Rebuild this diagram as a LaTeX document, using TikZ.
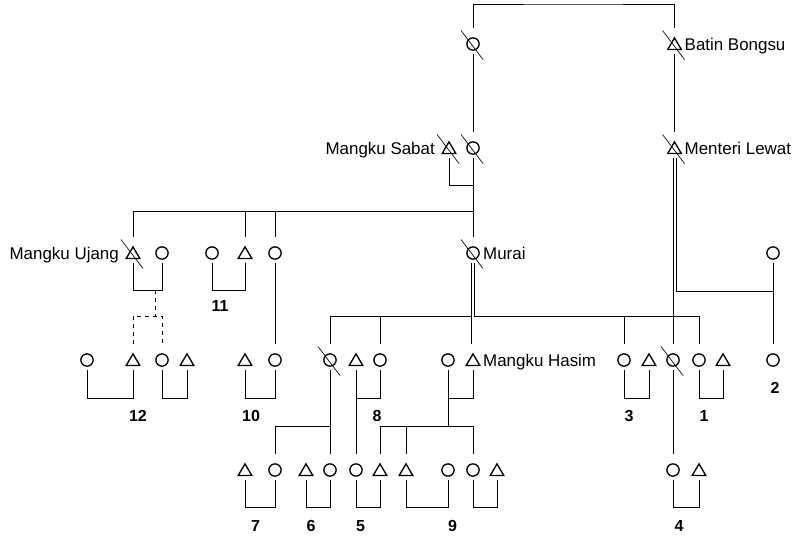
\documentclass[tikz,border=0pt]{standalone}
\usepackage{fontspec}
\setmainfont{Liberation Sans}

\tikzset{
  person/.style={rectangle, inner sep=0pt, minimum width=13.5pt,
    minimum height=19.5pt, shift={(0,-3)}},
  female/.style={person, path picture={\draw[line width=1pt]
    ([yshift=-2.25pt]path picture bounding box.center) circle[radius=4.6pt];}},
  male/.style={person, path picture={\draw[line width=1pt, line join=miter]
    ([yshift=-2.25pt]path picture bounding box.center) ++(0pt,4.6pt)
    -- ++(5.1pt,-8.7pt) -- ++(-10.2pt,0pt) -- cycle;}},
  kin/.style={line width=0.75pt},
  slash/.style={line width=0.5pt},
  rname/.style={font=\fontsize{12.7}{15}\selectfont, anchor=base west,
    inner sep=0.5pt, yshift=-6.75pt},
  lname/.style={font=\fontsize{12.7}{15}\selectfont, anchor=base east,
    inner sep=3.5pt, yshift=-6.75pt},
  famno/.style={font=\fontsize{12}{14}\selectfont\bfseries, inner sep=0pt},
}

\begin{document}
\begin{tikzpicture}[x=0.75pt, y=-0.75pt]
  \useasboundingbox (0,0) rectangle (796,537);

  % first generation
  \node[female] (w1) at (473,44) {};
  \node[male, label={[rname]right:Batin Bongsu}] (bb) at (674.5,44) {};

  % second generation
  \node[male, label={[lname]left:Mangku Sabat}] (ms) at (449,148) {};
  \node[female] (sw) at (473,148) {};
  \node[male, label={[rname]right:Menteri Lewat}] (ml) at (674.5,148) {};

  % third generation
  \node[male, label={[lname]left:Mangku Ujang}] (mu) at (133,253) {};
  \node[female] (muw) at (162,253) {};
  \node[female] (a11) at (212,253) {};
  \node[male] (b11) at (245,253) {};
  \node[female] (c10) at (275,253) {};
  \node[female, label={[rname]right:Murai}] (mr) at (473,253) {};
  \node[female] (w2) at (773,253) {};

  % fourth generation
  \node[female] (p12a) at (87,360) {};
  \node[male] (p12b) at (133,360) {};
  \node[female] (p12c) at (162,360) {};
  \node[male] (p12d) at (187,360) {};
  \node[male] (p10a) at (245,360) {};
  \node[female] (p10b) at (275,360) {};
  \node[female] (d1) at (330,360) {};
  \node[male] (p8a) at (356,360) {};
  \node[female] (p8b) at (380,360) {};
  \node[female] (mhw) at (448,360) {};
  \node[male, label={[rname]right:Mangku Hasim}] (mh) at (473,360) {};
  \node[female] (p3a) at (624,360) {};
  \node[male] (p3b) at (649,360) {};
  \node[female] (d2) at (673,360) {};
  \node[female] (p1a) at (699,360) {};
  \node[male] (p1b) at (723,360) {};
  \node[female] (p2) at (773,360) {};

  % fifth generation
  \node[male] (p7a) at (245,470) {};
  \node[female] (p7b) at (275,470) {};
  \node[male] (p6a) at (306,470) {};
  \node[female] (p6b) at (330,470) {};
  \node[female] (p5a) at (356,470) {};
  \node[male] (p5b) at (380,470) {};
  \node[male] (p9a) at (406,470) {};
  \node[female] (p9b) at (448,470) {};
  \node[female] (p9c) at (473,470) {};
  \node[male] (p9d) at (497,470) {};
  \node[female] (p4a) at (673,470) {};
  \node[male] (p4b) at (699,470) {};

  % deceased
  \foreach \n in {w1,bb,ms,sw,ml,mu,mr,d1,d2}
    \draw[slash] ([shift={(-12,-10.5)}]\n.center) -- ++(22,29);

  % household numbers
  \node[famno] (n11) at (220,306) {11};
  \node[famno] (n12) at (138,415.5) {12};
  \node[famno] (n10) at (251,415.5) {10};
  \node[famno] (n8) at (377,415.5) {8};
  \node[famno] (n3) at (629,415.5) {3};
  \node[famno] (n1) at (704,415.5) {1};
  \node[famno] (n2) at (775,387.5) {2};
  \node[famno] (n7) at (255.5,526) {7};
  \node[famno] (n6) at (311,526) {6};
  \node[famno] (n5) at (360.5,526) {5};
  \node[famno] (n9) at (452.5,526) {9};
  \node[famno] (n4) at (679,526) {4};

  % top couple
  \coordinate (topbar) at (573,4);
  \draw[kin] (w1.north) |- (topbar) -| (bb.north);
  \draw[kin] (w1.south) -- (sw.north);
  \draw[kin] (bb.south) -- (ml.north);

  % Mangku Sabat and children
  \coordinate (sbar) at (473,211.5);
  \draw[kin] (ms.south) -- ++(0,27) -| (sw.south);
  \draw[kin] (sw.south) -- (mr.north);
  \draw[kin] (mu.north) |- (sbar);
  \draw[kin] (b11.north) -- (b11.north |- sbar);
  \draw[kin] (c10.north) -- (c10.north |- sbar);

  % Mangku Ujang
  \coordinate (ujoin) at (155,290);
  \coordinate (ubar) at (155,316);
  \draw[kin] (mu.south) -- ++(0,27) -| (muw.south);
  \draw[kin, dashed] (ujoin) -- (ubar);
  \draw[kin, dashed] (p12b.north) |- (ubar) -| (p12c.north);
  \draw[kin] (a11.south) -- ++(0,27) -| (b11.south);
  \draw[kin] (c10.south) -- (p10b.north);

  % Murai
  \coordinate (mbar) at (473,316);
  \draw[kin] ([xshift=-1.1pt]mr.south) -- ([xshift=-1.1pt]mh.north);
  \draw[kin] (d1.north) |- ([xshift=-1.1pt]mbar);
  \draw[kin] (p8b.north) -- (p8b.north |- mbar);
  \draw[kin] ([xshift=1.1pt]mr.south) |- (p1a.north |- mbar) -- (p1a.north);
  \draw[kin] (p3a.north) -- (p3a.north |- mbar);

  % Menteri Lewat
  \draw[kin] (d2.north |- ml.south) -- (d2.north);
  \draw[kin] ([xshift=1.2pt]ml.south) |- (w2.south |- 0,291);
  \draw[kin] (w2.south) -- (p2.north);

  % fourth generation couples
  \draw[kin] (p12a.south) -- ++(0,28) -| (p12b.south);
  \draw[kin] (p12c.south) -- ++(0,28) -| (p12d.south);
  \draw[kin] (p10a.south) -- ++(0,28) -| (p10b.south);
  \draw[kin] (p8b.south) -- ++(0,28) -| (p8a.south);
  \draw[kin] (mh.south) -- ++(0,28) -| (mhw.south);
  \draw[kin] (p3a.south) -- ++(0,28) -| (p3b.south);
  \draw[kin] (p1a.south) -- ++(0,28) -| (p1b.south);

  % descent to fifth generation
  \coordinate (hbar) at (448,426);
  \draw[kin] (p8a.south) -- (p5a.north);
  \draw[kin] (d1.south) -- (p6b.north);
  \draw[kin] (p7b.north) |- (d1.south |- hbar);
  \draw[kin] (mhw.south) -- (hbar);
  \draw[kin] (p5b.north) |- (p9c.north |- hbar) -- (p9c.north);
  \draw[kin] (p9a.north) -- (p9a.north |- hbar);
  \draw[kin] (d2.south) -- (p4a.north);

  % fifth generation couples
  \draw[kin] (p7a.south) -- ++(0,27) -| (p7b.south);
  \draw[kin] (p6a.south) -- ++(0,27) -| (p6b.south);
  \draw[kin] (p5a.south) -- ++(0,27) -| (p5b.south);
  \draw[kin] (p9a.south) -- ++(0,27) -| (p9b.south);
  \draw[kin] (p9c.south) -- ++(0,27) -| (p9d.south);
  \draw[kin] (p4a.south) -- ++(0,27) -| (p4b.south);
\end{tikzpicture}
\end{document}
